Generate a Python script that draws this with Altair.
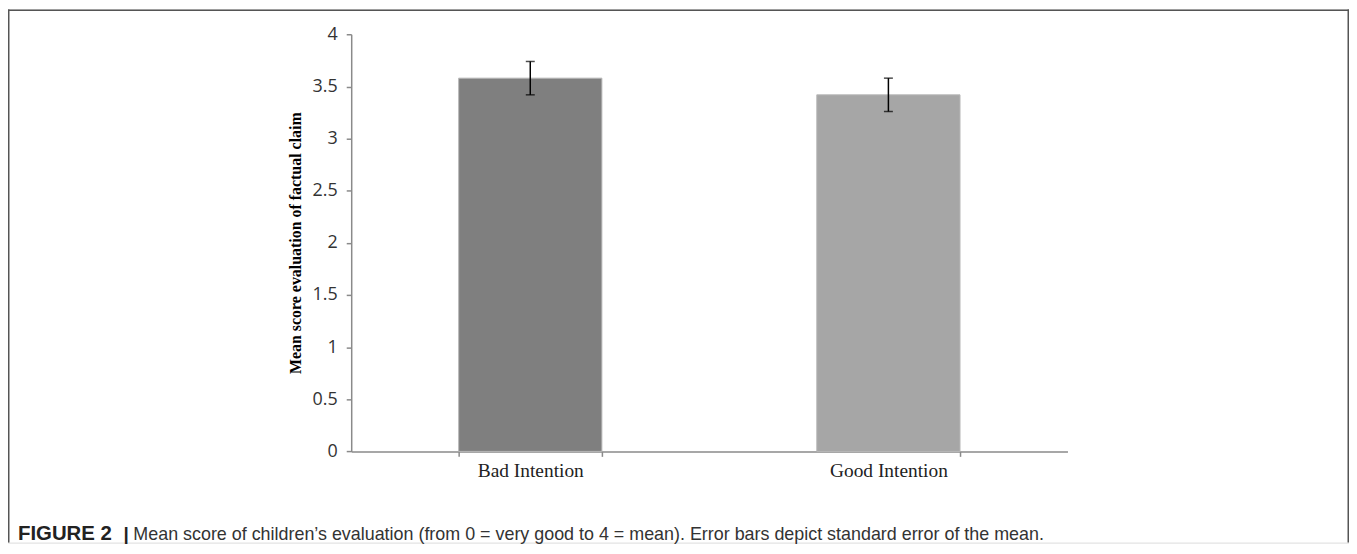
import altair as alt
import pandas as pd

# Data
conditions = ["Bad Intention", "Good Intention"]
means = [3.58, 3.42]
std_errors = [0.16, 0.16]
bar_colors = ["#7f7f7f", "#a6a6a6"]
y_ticks = [0, 0.5, 1, 1.5, 2, 2.5, 3, 3.5, 4]

y_title = "Mean score evaluation of factual claim"
caption_bold = "FIGURE 2"
caption_bar = "|"
caption_rest = ("Mean score of children\u2019s evaluation (from 0 = very good to 4 = mean). "
                "Error bars depict standard error of the mean.")

df = pd.DataFrame({
    "condition": conditions,
    "mean": means,
    "se": std_errors,
    "color": bar_colors,
})
df["lo"] = df["mean"] - df["se"]
df["hi"] = df["mean"] + df["se"]

W, H = 1348, 536
X_RANGE = [345, 1065]
Y_RANGE = [444.3, 25.1]

x_enc = alt.X(
    "condition:N",
    sort=conditions,
    scale=alt.Scale(range=X_RANGE, paddingInner=0.6, paddingOuter=0.3),
    axis=alt.Axis(
        title=None, labelAngle=0, offset=444.3 - H, tickBand="extent",
        labelFont="Liberation Serif", labelFontSize=19.5, labelColor="#222222",
        labelPadding=5, tickSize=5, tickColor="#8a8a8a", tickWidth=1.5,
        domainColor="#8a8a8a", domainWidth=1.5,
    ),
)
y_scale = alt.Scale(domain=[0, 4], range=Y_RANGE, nice=False, zero=True)

bars = alt.Chart(df).mark_bar(strokeWidth=1).encode(
    x=x_enc,
    y=alt.Y(
        "mean:Q", scale=y_scale,
        axis=alt.Axis(
            title=None, values=y_ticks, format="~g", offset=-345, grid=False,
            labelFont="Open Sans", labelFontSize=18, labelColor="#333333",
            labelPadding=9, tickSize=5, tickColor="#8a8a8a", tickWidth=1.5,
            domainColor="#8a8a8a", domainWidth=1.5,
        ),
    ),
    fill=alt.Fill("color:N", scale=None),
    stroke=alt.value("#b8b8b8"),
)

err_rule = alt.Chart(df).mark_rule(color="black", strokeWidth=1.5).encode(
    x=alt.X("condition:N", sort=conditions),
    y=alt.Y("lo:Q", scale=y_scale),
    y2="hi:Q",
)
err_top = alt.Chart(df).mark_tick(color="black", thickness=1.5, size=9).encode(
    x=alt.X("condition:N", sort=conditions),
    y=alt.Y("hi:Q", scale=y_scale),
)
err_bot = alt.Chart(df).mark_tick(color="black", thickness=1.5, size=9).encode(
    x=alt.X("condition:N", sort=conditions),
    y=alt.Y("lo:Q", scale=y_scale),
)

one = alt.Data(values=[{"t": 1}])

ytitle = alt.Chart(one).mark_text(
    angle=270, font="Liberation Serif", fontSize=16, fontWeight="bold",
    align="center", baseline="middle", color="black",
).encode(x=alt.value(290), y=alt.value(235), text=alt.value(y_title))

cap1 = alt.Chart(one).mark_text(
    font="Liberation Sans", fontSize=20.5, fontWeight="bold",
    align="left", baseline="alphabetic", color="#222222",
).encode(x=alt.value(10), y=alt.value(533), text=alt.value(caption_bold))

cap_bar = alt.Chart(one).mark_text(
    font="Liberation Sans", fontSize=19, fontWeight="bold",
    align="left", baseline="alphabetic", color="#222222",
).encode(x=alt.value(116), y=alt.value(533), text=alt.value(caption_bar))

cap2 = alt.Chart(one).mark_text(
    font="Liberation Sans", fontSize=18,
    align="left", baseline="alphabetic", color="#333333",
).encode(x=alt.value(126), y=alt.value(533), text=alt.value(caption_rest))

frame_color = "#555555"
frame_top = alt.Chart(one).mark_rule(color=frame_color, strokeWidth=1.5).encode(
    x=alt.value(0), x2=alt.value(W), y=alt.value(0.75))
frame_left = alt.Chart(one).mark_rule(color=frame_color, strokeWidth=1.5).encode(
    x=alt.value(0.75), y=alt.value(0), y2=alt.value(H))
frame_right = alt.Chart(one).mark_rule(color=frame_color, strokeWidth=1.5).encode(
    x=alt.value(W - 0.75), y=alt.value(0), y2=alt.value(H))

chart = alt.layer(
    bars, err_rule, err_top, err_bot, ytitle, cap1, cap_bar, cap2,
    frame_top, frame_left, frame_right,
).properties(
    width=W, height=H, padding=0,
    autosize=alt.AutoSizeParams(type="none"),
).configure_view(stroke=None).configure(background="white")

chart.save("out.html", embed_options={"renderer": "svg", "actions": False})
